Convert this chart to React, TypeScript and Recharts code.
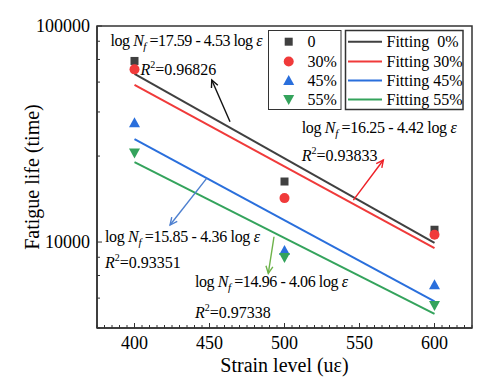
import React from 'react';
import { ComposedChart, Line, XAxis, YAxis, ReferenceArea, ReferenceLine, ReferenceDot, Legend } from 'recharts';

const FONT = "'Liberation Serif', 'Times New Roman', Times, serif";

// measured data
const strainLevels = [400, 500, 600];
const life0 = [68900, 19060, 11400];
const life30 = [63000, 15970, 10800];
const life45 = [35700, 9145, 6350];
const life55 = [25800, 8480, 5090];

// fitted lines (end points)
const fitStrain = [400, 600];
const fit0 = [60000, 9900];
const fit30 = [53400, 9380];
const fit45 = [29940, 5315];
const fit55 = [23430, 4650];

const seriesNames = ['0', '30%', '45%', '55%'];
const fitNames = ['Fitting  0%', 'Fitting 30%', 'Fitting 45%', 'Fitting 55%'];
const colors = ['#404040', '#f03a3a', '#2a6fdc', '#34a35c'];

const xDomain = [375, 625];
const yDomain = [4000, 100000];
const xTicks = Array.from({ length: 51 }, (_, i) => 375 + i * 5);
const xLabelTicks = [400, 450, 500, 550, 600];
const yTicks = [4000, 5500, 7000, 8500, 10000, 25000, 40000, 55000, 70000, 85000, 100000];
const yLabelTicks = [10000, 100000];

// annotations (data coordinates)
const equations = [
  { a: '17.59', b: '4.53', r2: '0.96826', ex: 384, ey: 81000, rx: 404, ry: 59300, w: 152 },
  { a: '16.25', b: '4.42', r2: '0.93833', ex: 511.5, ey: 31970, rx: 511.5, ry: 23790, w: 155 },
  { a: '15.85', b: '4.36', r2: '0.93351', ex: 380.3, ey: 10000, rx: 380.3, ry: 7550, w: 155 },
  { a: '14.96', b: '4.06', r2: '0.97338', ex: 440.3, ey: 6210, rx: 440.3, ry: 4435, w: 153 },
];
const arrows = [
  { from: [463.7, 36060], to: [451.5, 56230], color: '#111111' },
  { from: [545.9, 15640], to: [565.9, 23970], color: '#ee1f26' },
  { from: [448.1, 19720], to: [423.7, 11990], color: '#4d7fcf' },
  { from: [493, 10580], to: [489.2, 7160], color: '#6db24a' },
];

const toPts = (xs: number[], ys: number[]) => xs.map((x, i) => ({ x, y: ys[i] }));

const txt = (size: number, extra: any = {}) => ({ fontSize: size, fontFamily: FONT, fill: '#000', ...extra });

const Marker = ({ kind, cx, cy, color }: any) => {
  if (cx == null || cy == null) return null;
  if (kind === 0) return <rect x={cx - 4} y={cy - 4} width={8} height={8} fill={color} />;
  if (kind === 1) return <circle cx={cx} cy={cy} r={5} fill={color} />;
  if (kind === 2) return <polygon points={`${cx - 5.5},${cy + 4.5} ${cx + 5.5},${cy + 4.5} ${cx},${cy - 5.5}`} fill={color} />;
  return <polygon points={`${cx - 5.5},${cy - 4.5} ${cx + 5.5},${cy - 4.5} ${cx},${cy + 5.5}`} fill={color} />;
};

const XTick = (props: any) => {
  const { x, y, payload } = props;
  const v = payload.value;
  const major = v % 50 === 0;
  return (
    <g>
      <line x1={x} y1={y} x2={x} y2={y - (major ? 5 : 3)} stroke="#333" strokeWidth={1} />
      {xLabelTicks.includes(v) && (
        <text x={x} y={y + 21} textAnchor="middle" style={txt(18)}>{v}</text>
      )}
    </g>
  );
};

const YTick = (props: any) => {
  const { x, y, payload } = props;
  const v = payload.value;
  const major = yLabelTicks.includes(v);
  return (
    <g>
      <line x1={x} y1={y} x2={x + (major ? 5 : 3)} y2={y} stroke="#333" strokeWidth={1} />
      {major && (
        <text x={x - 7} y={y + 6} textAnchor="end" style={txt(18)}>{v}</text>
      )}
    </g>
  );
};

const EqText = ({ cx, cy, a, b, w }: any) => (
  <text x={cx} y={cy} textLength={w} lengthAdjust="spacing" style={txt(16, { whiteSpace: 'pre' })}>
    <tspan>log </tspan>
    <tspan fontStyle="italic">N</tspan>
    <tspan fontStyle="italic" style={{ fontSize: 11 }} dy={4}>f</tspan>
    <tspan dy={-4}>{` =${a} - ${b} log `}</tspan>
    <tspan fontStyle="italic">ε</tspan>
  </text>
);

const R2Text = ({ cx, cy, r2 }: any) => (
  <text x={cx} y={cy} style={txt(16)}>
    <tspan fontStyle="italic">R</tspan>
    <tspan style={{ fontSize: 10 }} dy={-7}>2</tspan>
    <tspan dy={7}>{`=${r2}`}</tspan>
  </text>
);

const arrowShape = (color: string) => (p: any) => {
  const { x1, y1, x2, y2 } = p;
  const ang = Math.atan2(y2 - y1, x2 - x1);
  const L = 8;
  const s = 0.45;
  const ax = x2 - L * Math.cos(ang - s);
  const ay = y2 - L * Math.sin(ang - s);
  const bx = x2 - L * Math.cos(ang + s);
  const by = y2 - L * Math.sin(ang + s);
  return (
    <g>
      <line x1={x1} y1={y1} x2={x2} y2={y2} stroke={color} strokeWidth={1.4} />
      <polyline points={`${ax},${ay} ${x2},${y2} ${bx},${by}`} fill="none" stroke={color} strokeWidth={1.4} />
    </g>
  );
};

const LegendBoxes = () => {
  const rows = [11.7, 31.5, 50.5, 69.5];
  return (
    <svg width={200} height={84} style={{ display: 'block', overflow: 'visible' }}>
      <rect x={0.5} y={0.5} width={72.5} height={79} fill="#fff" stroke="#333" strokeWidth={1} />
      <rect x={77.5} y={0.5} width={117.5} height={79} fill="#fff" stroke="#333" strokeWidth={1.5} />
      {seriesNames.map((n, i) => (
        <g key={n}>
          <Marker kind={i} cx={20.7} cy={rows[i]} color={colors[i]} />
          <text x={39.5} y={rows[i] + 5.5} style={txt(16)}>{n}</text>
        </g>
      ))}
      {fitNames.map((n, i) => (
        <g key={n}>
          <line x1={80} x2={114} y1={rows[i]} y2={rows[i]} stroke={colors[i]} strokeWidth={2} />
          <text x={118.5} y={rows[i] + 5.5} style={txt(16, { whiteSpace: 'pre' })}>{n}</text>
        </g>
      ))}
    </svg>
  );
};

const measured = [life0, life30, life45, life55];
const fits = [fit0, fit30, fit45, fit55];

export default function App() {
  return (
    <div style={{ position: 'absolute', left: 0, top: 0, width: 503, height: 386, background: '#fff', fontFamily: FONT }}>
      <ComposedChart width={503} height={386} margin={{ top: 26, right: 31, left: 0, bottom: 0 }} style={{ fontFamily: FONT }}>
        <XAxis
          dataKey="x"
          type="number"
          domain={xDomain}
          ticks={xTicks}
          interval={0}
          allowDataOverflow
          height={58}
          tickSize={0}
          tickMargin={0}
          tickLine={false}
          tick={<XTick />}
          axisLine={{ stroke: '#333', strokeWidth: 1.5 }}
          label={{
            content: (p: any) => {
              const vb = p.viewBox || { x: 97, y: 328, width: 375 };
              return (
                <text x={vb.x + vb.width / 2} y={vb.y + 44} textAnchor="middle" style={txt(20)}>
                  Strain level (uε)
                </text>
              );
            },
          }}
        />
        <YAxis
          dataKey="y"
          type="number"
          scale="log"
          domain={yDomain}
          ticks={yTicks}
          interval={0}
          allowDataOverflow
          width={97}
          tickSize={0}
          tickMargin={0}
          tickLine={false}
          tick={<YTick />}
          axisLine={{ stroke: '#333', strokeWidth: 1.5 }}
          label={{
            content: (p: any) => {
              const vb = p.viewBox || { x: 0, y: 26, height: 302 };
              const cx = vb.x + 32;
              const cy = vb.y + vb.height / 2;
              return (
                <text x={cx} y={cy} transform={`rotate(-90 ${cx} ${cy})`} textAnchor="middle" dominantBaseline="central" style={txt(20)}>
                  Fatigue life (time)
                </text>
              );
            },
          }}
        />
        <ReferenceArea x1={xDomain[0]} x2={xDomain[1]} y1={yDomain[0]} y2={yDomain[1]} fill="none" fillOpacity={0} stroke="#333" strokeWidth={1.5} ifOverflow="visible" />
        {fits.map((f, i) => (
          <Line
            key={'fit' + i}
            data={toPts(fitStrain, f)}
            dataKey="y"
            type="linear"
            stroke={colors[i]}
            strokeWidth={2}
            dot={false}
            activeDot={false}
            isAnimationActive={false}
            legendType="none"
          />
        ))}
        {measured.map((m, i) => (
          <Line
            key={'pts' + i}
            data={toPts(strainLevels, m)}
            dataKey="y"
            stroke="none"
            dot={(p: any) => <Marker key={`m${i}-${p.index}`} kind={i} cx={p.cx} cy={p.cy} color={colors[i]} />}
            activeDot={false}
            isAnimationActive={false}
            legendType="none"
          />
        ))}
        {arrows.map((a, i) => (
          <ReferenceLine
            key={'arr' + i}
            segment={[{ x: a.from[0], y: a.from[1] }, { x: a.to[0], y: a.to[1] }]}
            shape={arrowShape(a.color)}
            ifOverflow="visible"
          />
        ))}
        {equations.map((e, i) => (
          <ReferenceDot key={'eq' + i} x={e.ex} y={e.ey} r={0} ifOverflow="visible" shape={(p: any) => <EqText cx={p.cx} cy={p.cy} a={e.a} b={e.b} w={e.w} />} />
        ))}
        {equations.map((e, i) => (
          <ReferenceDot key={'r2' + i} x={e.rx} y={e.ry} r={0} ifOverflow="visible" shape={(p: any) => <R2Text cx={p.cx} cy={p.cy} r2={e.r2} />} />
        ))}
        <Legend
          layout="vertical"
          align="center"
          verticalAlign="middle"
          wrapperStyle={{ left: 268, top: 29.5, width: 200, height: 84 }}
          content={() => <LegendBoxes />}
        />
      </ComposedChart>
    </div>
  );
}
